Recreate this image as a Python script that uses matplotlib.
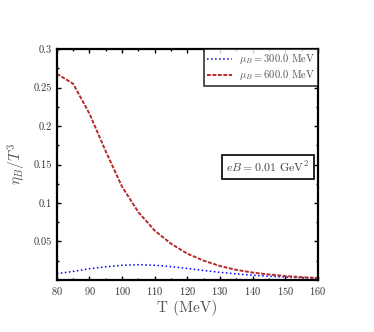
import matplotlib
matplotlib.use("Agg")
import matplotlib.pyplot as plt
from matplotlib.ticker import MultipleLocator

plt.rcParams['font.family'] = 'serif'
plt.rcParams['font.serif'] = ['cmr10']
plt.rcParams['mathtext.fontset'] = 'cm'
plt.rcParams['axes.formatter.use_mathtext'] = True

T = [80, 85, 90, 95, 100, 105, 110, 115, 120, 125, 130, 135, 140, 145, 150, 155, 160]
eta_300 = [0.008, 0.011, 0.0145, 0.017, 0.019, 0.0197, 0.019, 0.0172, 0.0148, 0.0122,
           0.0098, 0.0078, 0.0061, 0.0047, 0.0036, 0.0028, 0.0021]
eta_600 = [0.268, 0.255, 0.216, 0.167, 0.121, 0.088, 0.064, 0.047, 0.034, 0.025,
           0.018, 0.013, 0.0095, 0.007, 0.005, 0.0035, 0.0025]

fig = plt.figure(figsize=(3.74, 3.32), dpi=100)
ax = fig.add_axes([0.152, 0.157, 0.698, 0.695])

ax.plot(T, eta_300, color='blue', ls=':', lw=1.1, label=r'$\mu_B = 300.0$ MeV')
ax.plot(T, eta_600, color='#b52a2a', ls='--', lw=1.4, dashes=(2, 0.8), label=r'$\mu_B = 600.0$ MeV')

ax.set_xlim(80, 160)
ax.set_ylim(0, 0.3)
ax.set_xticks(range(80, 161, 10))
ax.set_yticks([0.05, 0.1, 0.15, 0.2, 0.25, 0.3])
ax.set_yticklabels(['0.05', '0.1', '0.15', '0.2', '0.25', '0.3'])
ax.xaxis.set_minor_locator(MultipleLocator(5))
ax.yaxis.set_minor_locator(MultipleLocator(0.025))
ax.tick_params(which='both', direction='in', top=True, right=True, labelsize=7.5,
               labelcolor='#333333', width=1)
ax.tick_params(which='major', length=3)
ax.tick_params(which='minor', length=1.5)
for s in ax.spines.values():
    s.set_linewidth(1.6)

ax.set_xlabel('T (MeV)', fontsize=11, color='#555555', labelpad=2)
ax.set_ylabel(r'$\eta_B/T^3$', fontsize=11, color='#555555', labelpad=4)

leg = ax.legend(loc='upper right', fontsize=7.6, frameon=True, fancybox=False,
                borderaxespad=0, handlelength=2.4, borderpad=0.3, labelspacing=0.2,
                handletextpad=0.6)
leg.get_frame().set_edgecolor('black')
leg.get_frame().set_linewidth(1.2)
for t in leg.get_texts():
    t.set_color('#555555')

ax.text(0.968, 0.49, r'$eB = 0.01$ GeV$^2$', transform=ax.transAxes, ha='right', va='center',
        fontsize=8.6, color='#444444',
        bbox=dict(boxstyle='square,pad=0.4', fc='white', ec='black', lw=1.2))

fig.savefig('out.png', dpi=100)
